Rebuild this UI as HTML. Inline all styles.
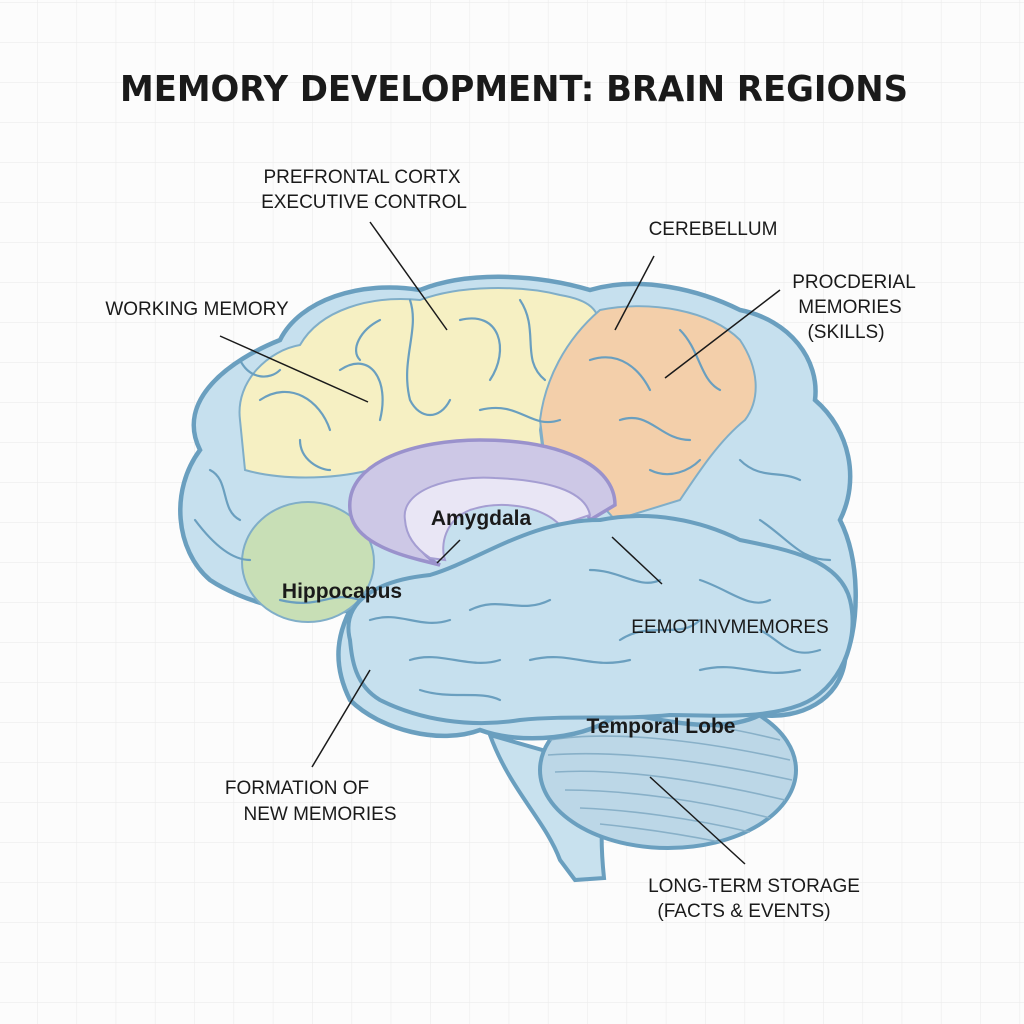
<!DOCTYPE html>
<html><head><meta charset="utf-8"><style>
html,body{margin:0;padding:0;background:#fff}
svg{display:block}
text{font-family:"Liberation Sans",sans-serif;fill:#1a1a1a}
</style></head><body>
<svg width="1024" height="1024" viewBox="0 0 1024 1024" xmlns="http://www.w3.org/2000/svg">
<defs>
<pattern id="g" x="37" y="42" width="39.3" height="40" patternUnits="userSpaceOnUse">
<path d="M0 0H39.3M0 0V40" stroke="#ececec" stroke-width="1.2" fill="none"/>
</pattern>
</defs>
<rect width="1024" height="1024" fill="#fcfcfc"/>
<rect width="1024" height="1024" fill="url(#g)"/>

<text x="514" y="101" text-anchor="middle" font-size="36" font-weight="bold" textLength="788" lengthAdjust="spacingAndGlyphs" style="font-family:'DejaVu Sans','Liberation Sans',sans-serif">MEMORY DEVELOPMENT: BRAIN REGIONS</text>

<!-- brainstem -->
<path d="M490 735 C510 790 545 820 560 860 L575 880 L604 878 C600 840 600 800 612 770 Z" fill="#c8e1ee" stroke="#6a9fbf" stroke-width="4"/>
<!-- cerebellum -->
<ellipse cx="668" cy="770" rx="128" ry="78" fill="#bcd7e7" stroke="#6a9fbf" stroke-width="4"/>
<g stroke="#88b0c8" stroke-width="1.6" fill="none">
<path d="M550 740 C610 730 700 740 790 760"/>
<path d="M548 755 C620 750 700 760 792 780"/>
<path d="M555 772 C620 768 700 780 785 800"/>
<path d="M565 790 C625 790 700 800 770 818"/>
<path d="M580 808 C630 810 690 818 750 832"/>
<path d="M600 824 C640 828 680 834 720 842"/>
<path d="M560 720 C620 712 700 720 780 740"/>
</g>

<!-- main brain -->
<path d="M200 450 C175 400 230 360 280 340 C300 300 360 280 420 290 C470 270 540 275 590 290 C640 275 700 290 740 310 C790 320 820 360 815 400 C850 430 860 480 840 520 C860 560 860 620 845 660 C840 700 800 720 760 715 C720 735 660 720 620 712 C590 740 520 745 480 730 C440 745 380 730 350 700 C330 660 340 630 350 610 C300 620 240 600 210 580 C175 550 170 490 200 450 Z" fill="#c6e0ee" stroke="#6a9fbf" stroke-width="4.5"/>

<!-- yellow frontal -->
<path d="M240 420 C235 380 270 350 300 345 C320 310 370 295 420 300 C460 285 520 285 560 295 C590 300 600 310 600 330 C570 360 545 390 540 430 L545 470 C480 445 420 440 370 470 C330 480 280 480 245 470 Z" fill="#f6f0c3" stroke="#80aec8" stroke-width="2"/>
<!-- orange -->
<path d="M600 310 C650 300 710 310 740 340 C760 370 760 400 745 420 C720 440 700 470 680 500 L615 520 C590 490 560 470 545 460 L540 420 C545 380 565 340 600 310 Z" fill="#f3cfaa" stroke="#80aec8" stroke-width="2"/>
<!-- green -->
<ellipse cx="308" cy="562" rx="66" ry="60" fill="#c8dfb6" stroke="#80aec8" stroke-width="2"/>

<!-- sulci -->
<g stroke="#6a9fbf" stroke-width="2.2" fill="none" stroke-linecap="round">
<path d="M260 400 C290 380 320 400 330 430"/><path d="M300 440 C300 460 320 470 330 470"/>
<path d="M340 370 C370 350 390 380 380 420"/><path d="M410 300 C420 330 400 360 410 400 C420 420 440 420 450 400"/>
<path d="M460 320 C500 310 510 350 490 380"/><path d="M480 410 C520 400 530 430 560 420"/>
<path d="M520 300 C540 330 520 360 545 380"/><path d="M380 320 C360 330 350 350 360 360"/>
<path d="M590 360 C620 350 640 370 650 390"/><path d="M620 420 C650 410 660 440 690 440"/>
<path d="M680 330 C700 350 700 380 720 390"/><path d="M650 470 C670 480 690 470 700 460"/>
<path d="M210 470 C230 480 220 510 240 520"/><path d="M195 520 C210 540 230 560 250 560"/>
<path d="M280 600 C320 610 330 590 360 600"/>
<path d="M740 460 C760 480 780 470 800 480"/><path d="M760 520 C790 540 800 560 830 560"/>
<path d="M770 600 C800 610 810 640 840 640"/><path d="M700 540 C720 560 740 580 760 580"/>
<path d="M240 360 C250 380 270 380 280 370"/>
</g>

<!-- purple ring -->
<path d="M350 510 C345 460 420 440 480 440 C560 440 615 465 615 505 L590 520 C580 490 540 480 490 480 C440 480 400 500 410 530 C418 550 430 560 440 565 L420 560 C380 550 352 535 350 510 Z" fill="#cdc8e6" stroke="#9a92cc" stroke-width="3.5"/>
<path d="M405 520 C400 490 450 475 495 478 C545 480 585 490 590 515 L560 525 C540 505 500 500 470 510 C445 520 440 545 445 560 L430 558 C415 548 406 535 405 520 Z" fill="#e9e6f5" stroke="#a59ed2" stroke-width="2"/>

<!-- temporal lobe -->
<path d="M350 640 C340 600 380 580 430 575 C480 560 530 520 600 520 C650 510 700 520 740 540 C790 550 840 560 850 600 C860 640 840 690 800 705 C760 720 710 715 670 715 C620 720 570 715 520 720 C470 728 420 720 380 700 C355 685 352 660 350 640 Z" fill="#c6e0ee" stroke="#6a9fbf" stroke-width="4"/>
<g stroke="#6a9fbf" stroke-width="2.2" fill="none" stroke-linecap="round">
<path d="M370 620 C400 610 420 630 450 620"/><path d="M410 660 C440 650 470 670 500 660"/>
<path d="M470 610 C500 595 520 615 550 600"/><path d="M530 660 C570 650 590 670 630 660"/>
<path d="M590 570 C620 570 640 590 660 580"/><path d="M620 640 C650 620 680 640 700 620"/>
<path d="M700 580 C730 590 750 610 770 600"/><path d="M700 670 C740 660 760 680 800 670"/>
<path d="M420 690 C450 700 480 690 500 700"/><path d="M760 630 C780 640 790 660 820 650"/>
</g>

<!-- leader lines -->
<g stroke="#1a1a1a" stroke-width="1.5" fill="none">
<line x1="370" y1="222" x2="447" y2="330"/>
<line x1="220" y1="336" x2="368" y2="402"/>
<line x1="654" y1="256" x2="615" y2="330"/>
<line x1="780" y1="290" x2="665" y2="378"/>
<line x1="460" y1="540" x2="437" y2="563"/>
<line x1="612" y1="537" x2="662" y2="584"/>
<line x1="370" y1="670" x2="312" y2="767"/>
<line x1="650" y1="777" x2="745" y2="864"/>
</g>

<!-- labels -->
<g font-size="19">
<text x="362" y="183" text-anchor="middle">PREFRONTAL CORTX</text>
<text x="364" y="208" text-anchor="middle">EXECUTIVE CONTROL</text>
<text x="197" y="315" text-anchor="middle">WORKING MEMORY</text>
<text x="713" y="235" text-anchor="middle">CEREBELLUM</text>
<text x="854" y="288" text-anchor="middle">PROCDERIAL</text>
<text x="850" y="313" text-anchor="middle">MEMORIES</text>
<text x="846" y="338" text-anchor="middle">(SKILLS)</text>
<text x="730" y="633" text-anchor="middle">EEMOTINVMEMORES</text>
<text x="297" y="794" text-anchor="middle">FORMATION OF</text>
<text x="320" y="820" text-anchor="middle">NEW MEMORIES</text>
<text x="754" y="892" text-anchor="middle">LONG-TERM STORAGE</text>
<text x="744" y="917" text-anchor="middle">(FACTS &amp; EVENTS)</text>
</g>
<g font-size="21" font-weight="bold">
<text x="481" y="525" text-anchor="middle">Amygdala</text>
<text x="342" y="598" text-anchor="middle">Hippocapus</text>
<text x="661" y="733" text-anchor="middle">Temporal Lobe</text>
</g>
</svg>
</body></html>
